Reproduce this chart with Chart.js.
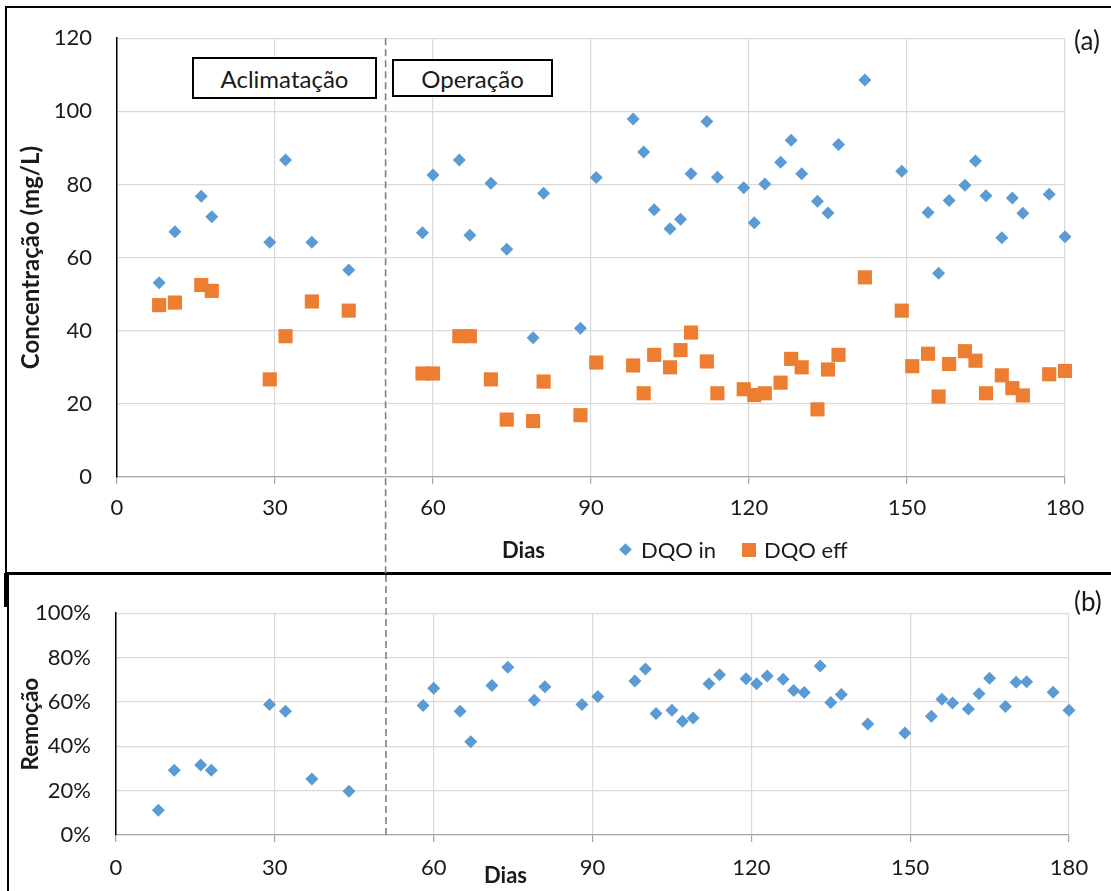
<!DOCTYPE html>
<html><head><meta charset="utf-8">
<script src="https://cdn.jsdelivr.net/npm/chart.js@4.4.0/dist/chart.umd.min.js"></script>
<style>
body{margin:0;width:1111px;height:891px;overflow:hidden;background:#fff;position:relative;font-family:Lato,sans-serif;color:#1a1a1a}
.abs{position:absolute}
.box{position:absolute;box-sizing:border-box;border:2px solid #000}
.txt{position:absolute;font-size:22px;line-height:26px;white-space:nowrap}
.note{position:absolute;box-sizing:border-box;border:2px solid #000;background:#fff;font-size:24px;display:flex;align-items:center;justify-content:center}
</style></head><body>
<div class="box" style="left:5px;top:6px;width:1200px;height:568px"></div>
<div class="box" style="left:7px;top:573px;width:1200px;height:400px"></div>
<div class="abs" style="left:4px;top:573px;width:3px;height:34px;background:#000"></div>
<canvas id="c1" class="abs" style="left:0;top:0" width="1111" height="575"></canvas>
<canvas id="c2" class="abs" style="left:0;top:575px" width="1111" height="316"></canvas>
<div id="overlay"></div>
<script>
// ---- data ----
const daysIn = [8,11,16,18,29,32,37,44,58,60,65,67,71,74,79,81,88,91,98,100,102,105,107,109,112,114,119,121,123,126,128,130,133,135,137,142,149,154,156,158,161,163,165,168,170,172,177,180];
const dqoIn = [53.1,67.1,76.8,71.2,64.2,86.7,64.2,56.6,66.8,82.6,86.7,66.1,80.3,62.3,38.1,77.6,40.7,81.9,97.9,88.9,73.1,67.9,70.5,82.9,97.2,82.0,79.1,69.5,80.1,86.1,92.1,82.9,75.4,72.2,90.9,108.6,83.6,72.3,55.7,75.6,79.8,86.4,76.9,65.4,76.3,72.1,77.3,65.7];
const daysEff = [8,11,16,18,29,32,37,44,58,60,65,67,71,74,79,81,88,91,98,100,102,105,107,109,112,114,119,121,123,126,128,130,133,135,137,142,149,151,154,156,158,161,163,165,168,170,172,177,180];
const dqoEff = [47.0,47.7,52.5,50.9,26.7,38.5,48.0,45.5,28.3,28.3,38.5,38.5,26.7,15.7,15.3,26.1,16.9,31.3,30.5,22.9,33.4,30.0,34.7,39.5,31.6,22.9,24.0,22.4,22.9,25.8,32.3,30.0,18.5,29.4,33.4,54.6,45.5,30.3,33.7,22.0,30.9,34.4,31.8,22.9,27.8,24.3,22.3,28.1,29.0];
const daysRem = [8,11,16,18,29,32,37,44,58,60,65,67,71,74,79,81,88,91,98,100,102,105,107,109,112,114,119,121,123,126,128,130,133,135,137,142,149,154,156,158,161,163,165,168,170,172,177,180];
const remocao = [11.2,29.2,31.6,29.2,58.8,55.8,25.2,19.7,58.4,66.2,55.8,42.0,67.4,75.6,60.8,66.8,58.8,62.4,69.4,74.8,54.8,56.3,51.3,52.8,68.2,72.2,70.4,68.2,71.7,70.2,65.1,64.2,76.2,59.7,63.4,50.0,46.0,53.5,61.2,59.5,56.8,63.7,70.7,57.9,68.9,69.1,64.4,56.3];
const seriesLabels = ['DQO in','DQO eff'];
const xTicks = [0,30,60,90,120,150,180];
const concTicks = [0,20,40,60,80,100,120];
const remTicks = [0,20,40,60,80,100];
const phaseNames = ['Aclimatação','Operação'];
const phaseSplitDay = 51;
const titles = {x:'Dias', yA:'Concentração (mg/L)', yB:'Remoção', a:'(a)', b:'(b)'};

// ---- styles ----
const BLUE = '#5B9BD5', ORANGE = '#ED7D31';
const FONT = 'Lato';
const tickFont = {family:FONT, size:22};
const TICK_COLOR = '#1a1a1a';

const toXY = (xs, ys) => xs.map((x,i)=>({x:x, y:ys[i]}));

const phasePlugin = {
  id:'phase',
  beforeDatasetsDraw(chart, args, opts){
    const ctx = chart.ctx, x = chart.scales.x.getPixelForValue(phaseSplitDay);
    const top = opts.fromTop ? 0 : chart.chartArea.top;
    const bottom = opts.toBottom ? chart.height : chart.chartArea.bottom;
    ctx.save();
    ctx.strokeStyle = '#7f7f7f'; ctx.lineWidth = 1.6; ctx.setLineDash([7,4]);
    ctx.beginPath(); ctx.moveTo(x, top); ctx.lineTo(x, bottom); ctx.stroke();
    ctx.restore();
  }
};

function xScale(h, pad){
  return {type:'linear', min:xTicks[0], max:xTicks[xTicks.length-1],
    afterBuildTicks(s){ s.ticks = xTicks.map(v=>({value:v})); },
    ticks:{font:tickFont, color:TICK_COLOR, padding:pad, maxRotation:0},
    grid:{color:'#d9d9d9', lineWidth:1.2, tickColor:'#a6a6a6', tickLength:7},
    border:{color:'#a6a6a6', width:1.2},
    afterFit(s){ s.height = h; }};
}
function yScale(ticks, w, title, tsize, cb){
  return {type:'linear', min:ticks[0], max:ticks[ticks.length-1],
    afterBuildTicks(s){ s.ticks = ticks.map(v=>({value:v})); },
    ticks:{font:tickFont, color:TICK_COLOR, padding:25, callback:cb},
    grid:{color:'#d9d9d9', lineWidth:1.2, drawTicks:false},
    border:{color:'#000', width:1.5},
    title:{display:true, text:title, font:{family:FONT, size:tsize, weight:'bold'}, color:'#1a1a1a', padding:{top:17, bottom:0}},
    afterFit(s){ s.width = w; }};
}

const c1 = new Chart(document.getElementById('c1'), {
  type:'scatter',
  data:{datasets:[
    {label:seriesLabels[0], data:toXY(daysIn, dqoIn), pointStyle:'rectRot', pointRadius:6.5, pointHoverRadius:6.5, backgroundColor:BLUE, borderColor:BLUE, borderWidth:0, clip:false},
    {label:seriesLabels[1], data:toXY(daysEff, dqoEff), pointStyle:'rect', pointRadius:10, pointHoverRadius:10, backgroundColor:ORANGE, borderColor:ORANGE, borderWidth:0, clip:false}
  ]},
  options:{responsive:false, animation:false, events:[],
    layout:{padding:{left:0, top:38, right:46, bottom:0}},
    plugins:{legend:{display:false}, tooltip:{enabled:false}, phase:{fromTop:false, toBottom:true}},
    scales:{x:xScale(98, 11), y:yScale(concTicks, 117, titles.yA, 24, v=>v)}},
  plugins:[phasePlugin]
});

const c2 = new Chart(document.getElementById('c2'), {
  type:'scatter',
  data:{datasets:[
    {label:'Remoção', data:toXY(daysRem, remocao), pointStyle:'rectRot', pointRadius:6.5, pointHoverRadius:6.5, backgroundColor:BLUE, borderColor:BLUE, borderWidth:0, clip:false}
  ]},
  options:{responsive:false, animation:false, events:[],
    layout:{padding:{left:0, top:26, right:42, bottom:0}},
    plugins:{legend:{display:false}, tooltip:{enabled:false}, phase:{fromTop:true, toBottom:false}},
    scales:{x:xScale(56, 13), y:yScale(remTicks, 116, titles.yB, 22.5, v=>v+'%')}},
  plugins:[phasePlugin]
});

// ---- overlay texts / legend ----
const ov = document.getElementById('overlay');
function add(html){ ov.insertAdjacentHTML('beforeend', html); }
add(`<div class="note" style="left:192px;top:57px;width:185px;height:42px">${phaseNames[0]}</div>`);
add(`<div class="note" style="left:392px;top:59px;width:161px;height:38px">${phaseNames[1]}</div>`);
add(`<div class="txt" style="left:1074px;top:25px;font-size:26px;line-height:30px">${titles.a}</div>`);
add(`<div class="txt" style="left:1074px;top:586px;font-size:26px;line-height:30px">${titles.b}</div>`);
add(`<div class="txt" style="left:502px;top:537px;font-weight:bold">${titles.x}</div>`);
add(`<div class="txt" style="left:484px;top:862px;font-weight:bold">${titles.x}</div>`);
const ds = c1.data.datasets;
add(`<div class="abs" style="left:621px;top:545px;width:9px;height:9px;background:${ds[0].backgroundColor};transform:rotate(45deg)"></div>`);
add(`<div class="txt" style="left:641px;top:537px">${ds[0].label}</div>`);
add(`<div class="abs" style="left:742px;top:543px;width:14px;height:14px;background:${ds[1].backgroundColor}"></div>`);
add(`<div class="txt" style="left:764px;top:537px">${ds[1].label}</div>`);
</script>
</body></html>
